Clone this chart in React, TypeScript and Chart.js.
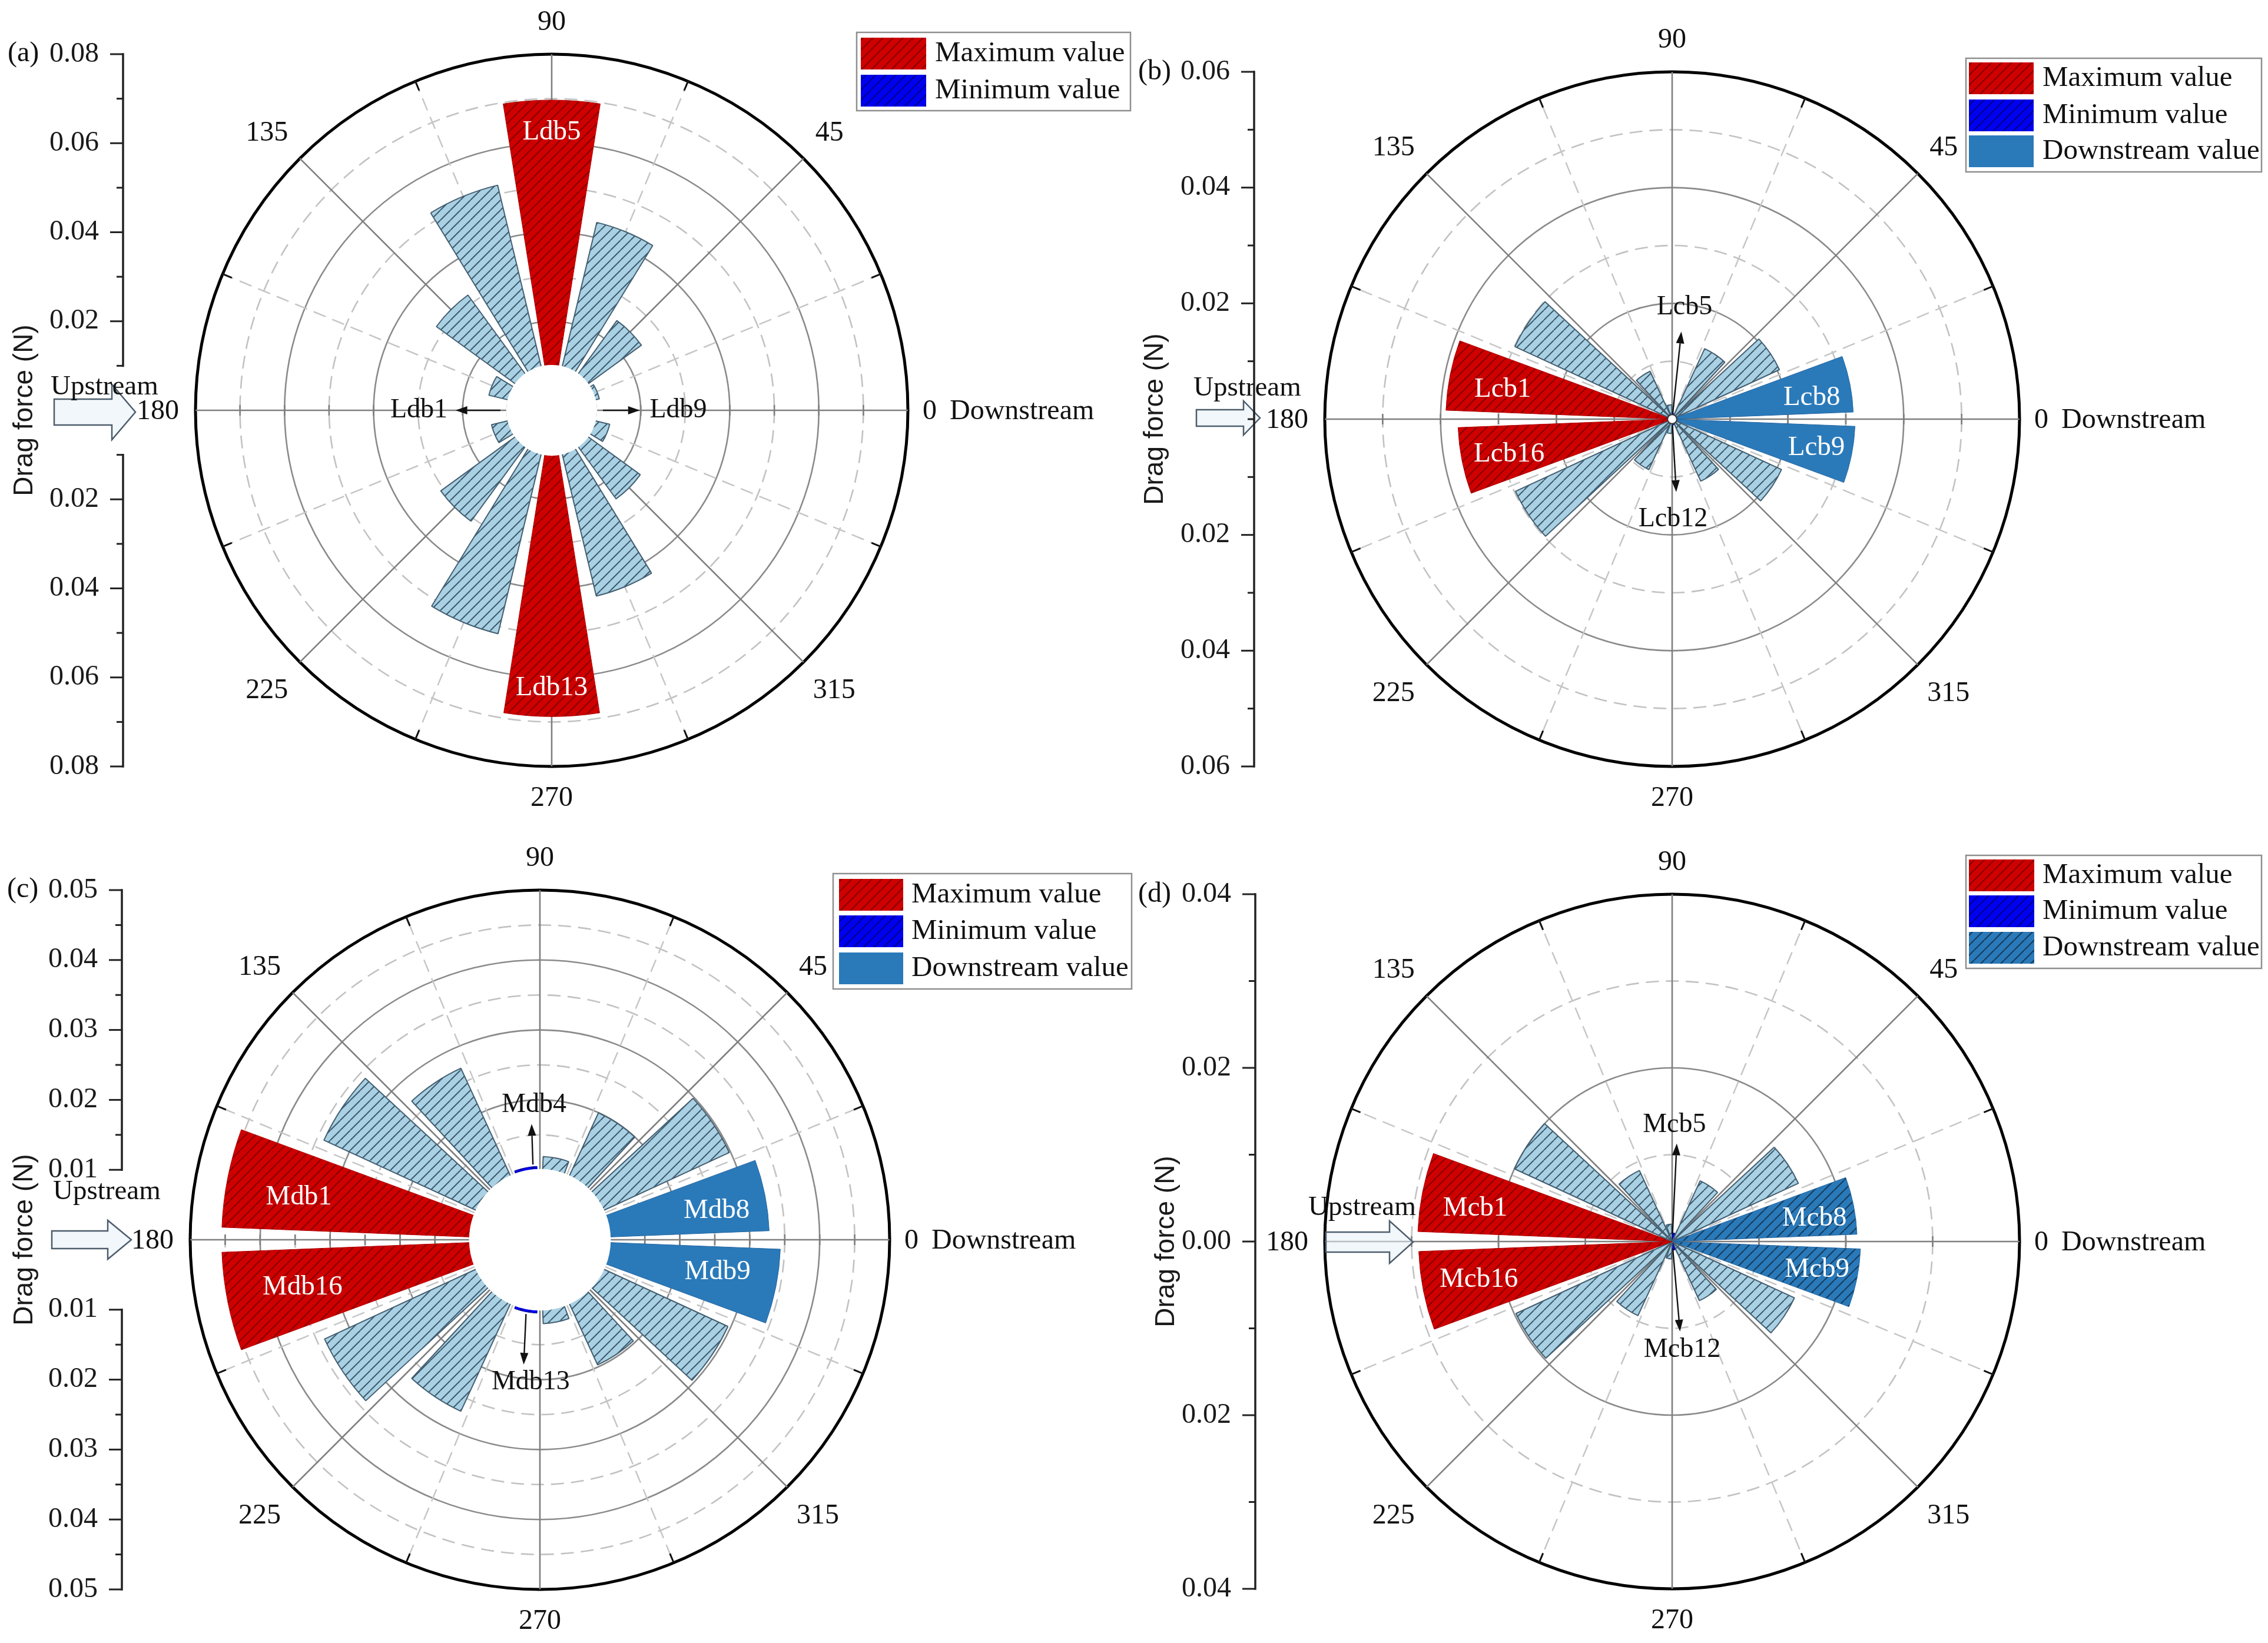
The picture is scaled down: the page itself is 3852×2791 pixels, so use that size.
import { useEffect, useRef } from "react";
import { Chart, registerables } from "chart.js";

Chart.register(...registerables);

const SERIF = '"Liberation Serif", "Times New Roman", serif';
const SANS = '"Liberation Sans", Arial, sans-serif';

// (a) Ldb sensors, 0.08 N ring
const LDB_NAMES = ["Ldb1", "Ldb2", "Ldb3", "Ldb4", "Ldb5", "Ldb6", "Ldb7", "Ldb8", "Ldb9", "Ldb10", "Ldb11", "Ldb12", "Ldb13", "Ldb14", "Ldb15", "Ldb16"];
const LDB_VALUES = [0.0101, 0.0145, 0.032, 0.052, 0.0697, 0.0434, 0.0249, 0.011, 0.0101, 0.0134, 0.0246, 0.0429, 0.0688, 0.0516, 0.0308, 0.0139];
const LDB_TICKS = [0.02, 0.04, 0.06, 0.08];

// (b) Lcb sensors
const LCB_NAMES = ["Lcb1", "Lcb2", "Lcb3", "Lcb4", "Lcb5", "Lcb6", "Lcb7", "Lcb8", "Lcb9", "Lcb10", "Lcb11", "Lcb12", "Lcb13", "Lcb14", "Lcb15", "Lcb16"];
const LCB_VALUES = [0.0391, 0.0299, 0.0091, 0.0025, 0.001, 0.0134, 0.0204, 0.0313, 0.0316, 0.0208, 0.0118, 0.001, 0.0025, 0.0096, 0.0298, 0.037];
const LCB_TICKS = [0.02, 0.04, 0.06];

// (c) Mdb sensors
const MDB_NAMES = ["Mdb1", "Mdb2", "Mdb3", "Mdb4", "Mdb5", "Mdb6", "Mdb7", "Mdb8", "Mdb9", "Mdb10", "Mdb11", "Mdb12", "Mdb13", "Mdb14", "Mdb15", "Mdb16"];
const MDB_VALUES = [0.0455, 0.034, 0.027, 0.0105, 0.0119, 0.02, 0.0298, 0.0328, 0.0344, 0.0296, 0.0197, 0.012, 0.0105, 0.027, 0.0339, 0.0455];
const MDB_TICKS = [0.01, 0.02, 0.03, 0.04, 0.05];

// (d) Mcb sensors
const MCB_NAMES = ["Mcb1", "Mcb2", "Mcb3", "Mcb4", "Mcb5", "Mcb6", "Mcb7", "Mcb8", "Mcb9", "Mcb10", "Mcb11", "Mcb12", "Mcb13", "Mcb14", "Mcb15", "Mcb16"];
const MCB_VALUES = [0.0293, 0.02, 0.009, 0.002, 0.001, 0.0077, 0.016, 0.0213, 0.0217, 0.0155, 0.0075, 0.001, 0.002, 0.0094, 0.0198, 0.0292];
const MCB_TICKS = [0, 0.02, 0.04];

const DOWNSTREAM_IDX = [7, 8];
const LEGEND_TEXT = ["Maximum value", "Minimum value", "Downstream value"];
const LEGEND_KIND = ["max", "min", "down"];

const BAR_DEG = 18;
const GAP_DEG = 4.5;

type Ann = { text: string; a0: number; r0: number; a1: number; r1: number; ta: number; tr: number; align?: CanvasTextAlign };

const PANELS: any[] = [
  {
    key: "a", letter: "(a)", left: 0, top: 0, width: 1925, height: 1410,
    cx: 937, cy: 697, R: 605, axisX: 209,
    max: 0.08, minor: 0.01, major: 0.02, hole: 0.01, holeRing: false, firstDeg: 180,
    names: LDB_NAMES, values: LDB_VALUES, downstream: [], downHatched: false,
    ticks: LDB_TICKS, axisBreak: 0.01, titlePad: 15,
    letterPos: [13, 91], upText: [86, 658],
    arrow: { x0: 92, x1: 230, xh: 190, y: 700, hs: 22, hh: 47 },
    legendBox: [1455, 55, 1920, 188], swatchX: [1462, 1573], rows: [64, 127], textX: 1588,
    barText: [{ i: 4, a: 90, r: 0.0624 }, { i: 12, a: 270, r: 0.0624 }],
    notes: [
      { text: "Ldb1", a0: 180, r0: 0.0115, a1: 180, r1: 0.0216, ta: 180, tr: 0.0234, align: "right" },
      { text: "Ldb9", a0: 0, r0: 0.0115, a1: 0, r1: 0.0198, ta: 0, tr: 0.022, align: "left" },
    ],
  },
  {
    key: "b", letter: "(b)", left: 1925, top: 0, width: 1927, height: 1410,
    cx: 2840, cy: 712, R: 590, axisX: 2130,
    max: 0.06, minor: 0.01, major: 0.02, hole: 0.0008, holeRing: true, firstDeg: 168.75,
    names: LCB_NAMES, values: LCB_VALUES, downstream: DOWNSTREAM_IDX, downHatched: false,
    ticks: LCB_TICKS, axisBreak: 0, titlePad: 10,
    letterPos: [1933, 122], upText: [2027, 660],
    arrow: { x0: 2032, x1: 2140, xh: 2112, y: 710, hs: 14, hh: 29 },
    legendBox: [3339, 99, 3841, 292], swatchX: [3344, 3454], rows: [106, 169, 230], textX: 3469,
    barText: [{ i: 0, a: 170.1, r: 0.0297 }, { i: 15, a: 192.1, r: 0.0288 }, { i: 7, a: 8.7, r: 0.0244 }, { i: 8, a: -11.2, r: 0.0254 }],
    notes: [
      { text: "Lcb5", a0: 84, r0: 0.001, a1: 84, r1: 0.0152, ta: 83.7, tr: 0.0194 },
      { text: "Lcb12", a0: -86.8, r0: 0.001, a1: -86.8, r1: 0.0126, ta: -89.5, tr: 0.0173 },
    ],
  },
  {
    key: "c", letter: "(c)", left: 0, top: 1410, width: 1925, height: 1381,
    cx: 917, cy: 2106, R: 594, axisX: 207,
    max: 0.05, minor: 0.005, major: 0.01, hole: 0.01, holeRing: false, firstDeg: 168.75,
    names: MDB_NAMES, values: MDB_VALUES, downstream: DOWNSTREAM_IDX, downHatched: false,
    ticks: MDB_TICKS, axisBreak: 0.01, titlePad: 15,
    letterPos: [12, 1511], upText: [90, 2025],
    arrow: { x0: 88, x1: 223, xh: 183, y: 2106, hs: 15, hh: 33 },
    legendBox: [1415, 1484, 1922, 1680], swatchX: [1425, 1534], rows: [1493, 1555, 1618], textX: 1548,
    barText: [{ i: 0, a: 170, r: 0.035 }, { i: 15, a: 191.3, r: 0.0346 }, { i: 7, a: 9.4, r: 0.0256 }, { i: 8, a: -10.3, r: 0.0258 }],
    notes: [
      { text: "Mdb4", a0: 95.3, r0: 0.0108, a1: 94.1, r1: 0.0166, ta: 92.5, tr: 0.0193 },
      { text: "Mdb13", a0: -100.6, r0: 0.0108, a1: -97.4, r1: 0.018, ta: -93.7, tr: 0.0204 },
    ],
  },
  {
    key: "d", letter: "(d)", left: 1925, top: 1410, width: 1927, height: 1381,
    cx: 2840, cy: 2109, R: 590, axisX: 2132,
    max: 0.04, minor: 0.01, major: 0.02, hole: 0, holeRing: false, firstDeg: 168.75,
    names: MCB_NAMES, values: MCB_VALUES, downstream: DOWNSTREAM_IDX, downHatched: true,
    ticks: MCB_TICKS, axisBreak: 0, titlePad: 29,
    letterPos: [1933, 1519], upText: [2222, 2052],
    arrow: { x0: 2252, x1: 2400, xh: 2360, y: 2110, hs: 17, hh: 36 },
    legendBox: [3339, 1453, 3841, 1645], swatchX: [3344, 3455], rows: [1460, 1521, 1583], textX: 3469,
    barText: [{ i: 0, a: 170.4, r: 0.023 }, { i: 15, a: 191.2, r: 0.0227 }, { i: 7, a: 9.3, r: 0.0166 }, { i: 8, a: -11, r: 0.017 }],
    notes: [
      { text: "Mcb5", a0: 87.3, r0: 0.0008, a1: 87.3, r1: 0.0113, ta: 88.9, tr: 0.0134 },
      { text: "Mcb12", a0: -85, r0: 0.0008, a1: -85, r1: 0.0104, ta: -84.7, tr: 0.0125 },
    ],
  },
];

function kindsFor(values: number[], downstream: number[]) {
  const order = values.map((_, i) => i).sort((a, b) => values[b] - values[a]);
  const top = new Set(order.slice(0, 2));
  const low = new Set(order.slice(-2));
  return values.map((_, i) => (top.has(i) ? "max" : low.has(i) ? "min" : downstream.includes(i) ? "down" : "other"));
}

function hatch(ctx: CanvasRenderingContext2D, base: string, line: string, size = 17, lw = 2.2) {
  const c = document.createElement("canvas");
  c.width = size;
  c.height = size;
  const g = c.getContext("2d")!;
  g.fillStyle = base;
  g.fillRect(0, 0, size, size);
  g.strokeStyle = line;
  g.lineWidth = lw;
  g.beginPath();
  for (const o of [-size, 0, size]) {
    g.moveTo(o, size);
    g.lineTo(o + size, 0);
  }
  g.stroke();
  return ctx.createPattern(c, "repeat")!;
}

function seg(ctx: CanvasRenderingContext2D, x0: number, y0: number, x1: number, y1: number) {
  ctx.beginPath();
  ctx.moveTo(x0, y0);
  ctx.lineTo(x1, y1);
  ctx.stroke();
}

function txt(ctx: CanvasRenderingContext2D, s: string, x: number, y: number, size: number, align: CanvasTextAlign = "center", color = "#111", family = SERIF) {
  ctx.font = `${size}px ${family}`;
  ctx.fillStyle = color;
  ctx.textAlign = align;
  ctx.textBaseline = "middle";
  ctx.fillText(s, x, y);
}

function rosePlugin(p: any, fills: Record<string, any>) {
  const near = (a: number, b: number) => Math.abs(a - b) < 1e-9;
  return {
    id: "rose-" + p.key,
    beforeDatasetsDraw(chart: any) {
      const ctx = chart.ctx as CanvasRenderingContext2D;
      const r = chart.scales.r;
      const xc = r.xCenter;
      const yc = r.yCenter;
      const R = r.drawingArea;
      const d0 = r.getDistanceFromCenterForValue(p.hole);
      ctx.save();
      for (let k = 0; k < 8; k++) {
        const t = ((22.5 + 45 * k) * Math.PI) / 180;
        const c = Math.cos(t);
        const s = Math.sin(t);
        ctx.setLineDash([22, 12]);
        ctx.strokeStyle = "#c6c6c6";
        ctx.lineWidth = 2.5;
        seg(ctx, xc + d0 * c, yc - d0 * s, xc + R * c, yc - R * s);
        ctx.setLineDash([]);
        ctx.strokeStyle = "#111";
        ctx.lineWidth = 3;
        seg(ctx, xc + (R - 17) * c, yc - (R - 17) * s, xc + R * c, yc - R * s);
      }
      ctx.strokeStyle = "#7f7f7f";
      ctx.lineWidth = 2.6;
      for (let k = 0; k < 8; k++) {
        const t = (45 * k * Math.PI) / 180;
        const c = Math.cos(t);
        const s = Math.sin(t);
        seg(ctx, xc + d0 * c, yc - d0 * s, xc + R * c, yc - R * s);
      }
      r.ticks.forEach((tk: any) => {
        if (tk.value <= p.hole + 1e-9 || tk.value >= p.max - 1e-9) return;
        const d = r.getDistanceFromCenterForValue(tk.value);
        seg(ctx, xc - d, yc - 9, xc - d, yc + 9);
        seg(ctx, xc + d, yc - 9, xc + d, yc + 9);
      });
      ctx.restore();
    },
    afterDatasetsDraw(chart: any) {
      const ctx = chart.ctx as CanvasRenderingContext2D;
      const r = chart.scales.r;
      const y = chart.scales.y;
      const xc = r.xCenter;
      const yc = r.yCenter;
      const R = r.drawingArea;
      const ox = p.left;
      const oy = p.top;
      const pt = (deg: number, v: number) => {
        const d = r.getDistanceFromCenterForValue(v);
        const t = (deg * Math.PI) / 180;
        return [xc + d * Math.cos(t), yc - d * Math.sin(t)];
      };
      ctx.save();

      // centre hole
      if (p.hole > 0) {
        const dh = r.getDistanceFromCenterForValue(p.hole);
        ctx.beginPath();
        ctx.arc(xc, yc, dh + (p.holeRing ? 0 : 1.5), 0, Math.PI * 2);
        ctx.fillStyle = "#fff";
        ctx.fill();
        if (p.holeRing) {
          ctx.strokeStyle = "#333";
          ctx.lineWidth = 2;
          ctx.stroke();
        }
      }

      // names inside the coloured bars
      p.barText.forEach((b: any) => {
        const [x, yy] = pt(b.a, b.r);
        txt(ctx, p.names[b.i], x, yy, 47, "center", "#fff");
      });

      // arrows to the minimum bars
      p.notes.forEach((n: Ann) => {
        const [x0, y0] = pt(n.a0, n.r0);
        const [x1, y1] = pt(n.a1, n.r1);
        const f = Math.atan2(y1 - y0, x1 - x0);
        const hl = 20;
        const hw = 7;
        const bx = x1 - hl * Math.cos(f);
        const by = y1 - hl * Math.sin(f);
        ctx.strokeStyle = "#111";
        ctx.lineWidth = 2.4;
        seg(ctx, x0, y0, bx, by);
        ctx.beginPath();
        ctx.moveTo(x1, y1);
        ctx.lineTo(bx - hw * Math.sin(f), by + hw * Math.cos(f));
        ctx.lineTo(bx + hw * Math.sin(f), by - hw * Math.cos(f));
        ctx.closePath();
        ctx.fillStyle = "#111";
        ctx.fill();
        const [tx, ty] = pt(n.ta, n.tr);
        txt(ctx, n.text, tx, ty, 46, n.align || "center");
      });

      // angle labels
      const c45 = Math.SQRT1_2 * R;
      txt(ctx, "90", xc, yc - R - 54, 48);
      txt(ctx, "270", xc, yc + R + 54, 48);
      txt(ctx, "0", xc + R + 25, yc + 2, 48, "left");
      txt(ctx, "Downstream", xc + R + 71, yc + 2, 48, "left");
      txt(ctx, "180", xc - R - 28, yc + 2, 48, "right");
      txt(ctx, "45", xc + c45 + 20, yc - c45 - 43, 48, "left");
      txt(ctx, "135", xc - c45 - 20, yc - c45 - 43, 48, "right");
      txt(ctx, "225", xc - c45 - 20, yc + c45 + 49, 48, "right");
      txt(ctx, "315", xc + c45 + 16, yc + c45 + 49, 48, "left");

      // upstream arrow
      const a = p.arrow;
      ctx.beginPath();
      ctx.moveTo(a.x0 - ox, a.y - a.hs - oy);
      ctx.lineTo(a.xh - ox, a.y - a.hs - oy);
      ctx.lineTo(a.xh - ox, a.y - a.hh - oy);
      ctx.lineTo(a.x1 - ox, a.y - oy);
      ctx.lineTo(a.xh - ox, a.y + a.hh - oy);
      ctx.lineTo(a.xh - ox, a.y + a.hs - oy);
      ctx.lineTo(a.x0 - ox, a.y + a.hs - oy);
      ctx.closePath();
      ctx.fillStyle = "rgba(232,241,248,0.55)";
      ctx.fill();
      ctx.strokeStyle = "#4d5d6c";
      ctx.lineWidth = 2.5;
      ctx.lineJoin = "miter";
      ctx.stroke();
      txt(ctx, "Upstream", p.upText[0] - ox, p.upText[1] - oy, 47, "left");

      // panel letter
      txt(ctx, p.letter, p.letterPos[0] - ox, p.letterPos[1] - oy, 48, "left");

      // legend
      const [lx0, ly0, lx1, ly1] = p.legendBox;
      ctx.fillStyle = "#fff";
      ctx.fillRect(lx0 - ox, ly0 - oy, lx1 - lx0, ly1 - ly0);
      ctx.strokeStyle = "#8f8f8f";
      ctx.lineWidth = 2.5;
      ctx.strokeRect(lx0 - ox, ly0 - oy, lx1 - lx0, ly1 - ly0);
      p.rows.forEach((top: number, i: number) => {
        const kind = LEGEND_KIND[i];
        ctx.fillStyle = fills[kind];
        ctx.fillRect(p.swatchX[0] - ox, top - oy, p.swatchX[1] - p.swatchX[0], 54);
        txt(ctx, LEGEND_TEXT[i], p.textX - ox, top + 27 - oy, 49, "left");
      });

      // left drag-force axis
      const ax = y.right;
      ctx.strokeStyle = "#222";
      ctx.lineWidth = 3.5;
      ctx.lineCap = "square";
      if (p.axisBreak > 0) {
        seg(ctx, ax, y.getPixelForValue(p.max), ax, y.getPixelForValue(p.axisBreak));
        seg(ctx, ax, y.getPixelForValue(-p.axisBreak), ax, y.getPixelForValue(-p.max));
      } else {
        seg(ctx, ax, y.getPixelForValue(p.max), ax, y.getPixelForValue(-p.max));
      }
      ctx.lineCap = "butt";
      ctx.lineWidth = 3;
      y.ticks.forEach((tk: any) => {
        const v = Math.abs(tk.value);
        if (p.axisBreak > 0 && v < p.axisBreak - 1e-9) return;
        const major = p.ticks.some((t: number) => near(t, v));
        const py = y.getPixelForValue(tk.value);
        seg(ctx, ax - (major ? 22 : 11), py, ax, py);
      });
      ctx.restore();
    },
  };
}

function RosePanel({ p }: { p: any }) {
  const canvasRef = useRef<HTMLCanvasElement>(null);

  useEffect(() => {
    if (!canvasRef.current) return;
    const ctx = canvasRef.current.getContext("2d");
    if (!ctx) return;

    const fills: Record<string, any> = {
      max: hatch(ctx, "#cf0000", "#870000"),
      min: hatch(ctx, "#0000f0", "#00008a"),
      other: hatch(ctx, "#a9d1e3", "#3d5a6e", 17, 2),
      down: p.downHatched ? hatch(ctx, "#2a7aba", "#173d5e") : "#2a7aba",
    };
    const edges: Record<string, string> = { max: "#b00000", min: "#00008a", other: "#445f72", down: "#2566a0" };

    const kinds = kindsFor(p.values, p.downstream);
    const labels: string[] = [];
    const data: number[] = [];
    const bg: any[] = [];
    const bc: string[] = [];
    const bw: number[] = [];
    const ang: number[] = [];
    p.values.forEach((v: number, i: number) => {
      const k = kinds[i];
      labels.push(p.names[i], "");
      data.push(v, 0);
      bg.push(fills[k], "rgba(0,0,0,0)");
      bc.push(edges[k], "rgba(0,0,0,0)");
      bw.push(k === "other" ? 2 : 1, 0);
      ang.push(BAR_DEG, GAP_DEG);
    });

    const startAngle = (90 - p.firstDeg - BAR_DEG / 2 + 720) % 360;
    const padTop = p.cy - p.R - p.top;
    const padBottom = p.top + p.height - (p.cy + p.R);
    const yWidth = p.axisX - p.left;
    const padRight = p.width - (2 * p.cx - p.axisX - p.left);
    const isMinor = (v: number) => Math.round(v / p.minor) % Math.round(p.major / p.minor) !== 0;
    const isOuter = (v: number) => Math.abs(v - p.max) < 1e-9;

    const chart = new Chart(ctx, {
      type: "polarArea",
      data: {
        labels,
        datasets: [{ data, backgroundColor: bg, borderColor: bc, borderWidth: bw, angle: ang } as any],
      },
      options: {
        responsive: false,
        animation: false,
        devicePixelRatio: 1,
        events: [],
        layout: { padding: { left: 0, top: padTop, right: padRight, bottom: padBottom } },
        plugins: { legend: { display: false }, tooltip: { enabled: false } },
        scales: {
          r: {
            type: "radialLinear",
            min: 0,
            max: p.max,
            startAngle,
            ticks: { display: false, stepSize: p.minor, maxTicksLimit: 100 },
            grid: {
              circular: true,
              color: (c: any) => (isOuter(c.tick.value) ? "#000" : isMinor(c.tick.value) ? "#c2c2c2" : "#8a8a8a"),
              lineWidth: (c: any) => (isOuter(c.tick.value) ? 5 : 2.6),
            },
            border: { dash: (c: any) => (isMinor(c.tick.value) && !isOuter(c.tick.value) ? [22, 12] : []) },
            angleLines: { display: false },
            pointLabels: { display: false },
          },
          y: {
            type: "linear",
            position: "left",
            min: -p.max,
            max: p.max,
            afterFit: (s: any) => {
              s.width = yWidth;
            },
            grid: { display: false, drawTicks: false },
            border: { display: false },
            ticks: {
              stepSize: p.minor,
              autoSkip: false,
              maxTicksLimit: 1000,
              padding: 41,
              color: "#1a1a1a",
              font: { family: SERIF, size: 48 },
              callback: (val: any) => {
                const v = Math.abs(Number(val));
                const hit = p.ticks.find((t: number) => Math.abs(t - v) < 1e-9);
                return hit === undefined ? "" : hit.toFixed(2);
              },
            },
            title: {
              display: true,
              text: "Drag force (N)",
              color: "#1a1a1a",
              font: { family: SANS, size: 46 },
              padding: { top: p.titlePad, bottom: 0 },
            },
          },
        } as any,
      },
      plugins: [rosePlugin(p, fills)],
    });

    return () => chart.destroy();
  }, [p]);

  return (
    <canvas
      ref={canvasRef}
      width={p.width}
      height={p.height}
      style={{ position: "absolute", left: p.left, top: p.top, width: p.width, height: p.height }}
    />
  );
}

export default function App() {
  return (
    <div style={{ position: "absolute", left: 0, top: 0, width: 3852, height: 2791, background: "#fff", overflow: "hidden" }}>
      {PANELS.map((p) => (
        <RosePanel key={p.key} p={p} />
      ))}
    </div>
  );
}
